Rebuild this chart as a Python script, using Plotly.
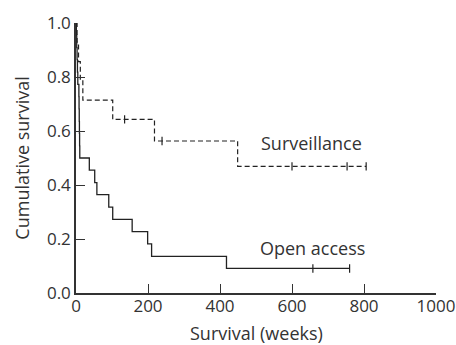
import plotly.graph_objects as go

# Open access group (solid): event times (weeks) and survival after each step
open_times = [0, 1, 2, 3, 4, 5, 8, 8.5, 9, 9.5, 10, 10.5, 37, 52, 58, 91, 102, 156, 199, 210, 418, 760]
open_surv = [1.0, 0.955, 0.909, 0.864, 0.818, 0.773, 0.727, 0.682, 0.636, 0.591, 0.545, 0.5,
             0.455, 0.409, 0.364, 0.318, 0.273, 0.227, 0.182, 0.136, 0.091, 0.091]
open_cens_t = [658, 760]
open_cens_s = [0.091, 0.091]

# Surveillance group (dashed)
surv_times = [0, 3, 7, 12, 19, 102, 218, 449, 806]
surv_surv = [1.0, 0.929, 0.857, 0.786, 0.714, 0.643, 0.563, 0.469, 0.469]
surv_cens_t = [135, 239, 600, 753, 806]
surv_cens_s = [0.643, 0.563, 0.469, 0.469, 0.469]

x_ticks = [0, 200, 400, 600, 800, 1000]
y_ticks = [0.0, 0.2, 0.4, 0.6, 0.8, 1.0]
y_tick_text = ["0.0", "0.2", "0.4", "0.6", "0.8", "1.0"]

font_family = "'Open Sans', Lato, sans-serif"
ink = "#333333"

fig = go.Figure()
fig.add_trace(go.Scatter(x=surv_times, y=surv_surv, mode="lines", line_shape="hv",
                         line=dict(color="#222222", width=1.2, dash="5px,3px"),
                         cliponaxis=False, showlegend=False))
fig.add_trace(go.Scatter(x=open_times, y=open_surv, mode="lines", line_shape="hv",
                         line=dict(color="#222222", width=1.3),
                         cliponaxis=False, showlegend=False))
fig.add_trace(go.Scatter(x=surv_cens_t, y=surv_cens_s, mode="markers",
                         marker=dict(symbol="line-ns", size=6, line=dict(width=1.2, color="#222222")),
                         cliponaxis=False, showlegend=False))
fig.add_trace(go.Scatter(x=open_cens_t, y=open_cens_s, mode="markers",
                         marker=dict(symbol="line-ns", size=6, line=dict(width=1.2, color="#222222")),
                         cliponaxis=False, showlegend=False))

fig.add_annotation(x=654, y=0.556, text="Surveillance", showarrow=False,
                   font=dict(size=18, color=ink, family=font_family))
fig.add_annotation(x=657, y=0.168, text="Open access", showarrow=False,
                   font=dict(size=18, color=ink, family=font_family))

# axis titles
fig.add_annotation(xref="paper", yref="paper", x=0.5, y=-0.148, text="Survival (weeks)",
                   showarrow=False, xanchor="center", yanchor="middle",
                   font=dict(size=18, color=ink, family=font_family))
fig.add_annotation(xref="paper", yref="paper", x=-0.151, y=0.5, text="Cumulative survival",
                   showarrow=False, xanchor="center", yanchor="middle", textangle=-90,
                   font=dict(size=18, color=ink, family=font_family))

fig.update_layout(
    width=456, height=345,
    margin=dict(l=76, r=20, t=23, b=52),
    plot_bgcolor="white", paper_bgcolor="white",
    font=dict(family=font_family, size=17, color=ink),
    xaxis=dict(range=[0, 1000], tickvals=x_ticks, ticks="inside", ticklen=9,
               tickcolor=ink, tickwidth=1, showline=True, linecolor=ink, linewidth=1.5,
               showgrid=False, zeroline=False, ticklabeloverflow="allow",
               ticklabelstandoff=-3, automargin=False,
               tickfont=dict(size=17)),
    yaxis=dict(range=[0, 1.0], tickvals=y_ticks, ticktext=y_tick_text, ticks="inside",
               ticklen=9, tickcolor=ink, tickwidth=1, showline=True, linecolor=ink,
               linewidth=1.5, showgrid=False, zeroline=False, automargin=False,
               tickfont=dict(size=17)),
)

fig.write_html("out.html", config={"displayModeBar": False},
               post_script="document.body.style.margin='0';document.body.style.overflow='hidden';")
